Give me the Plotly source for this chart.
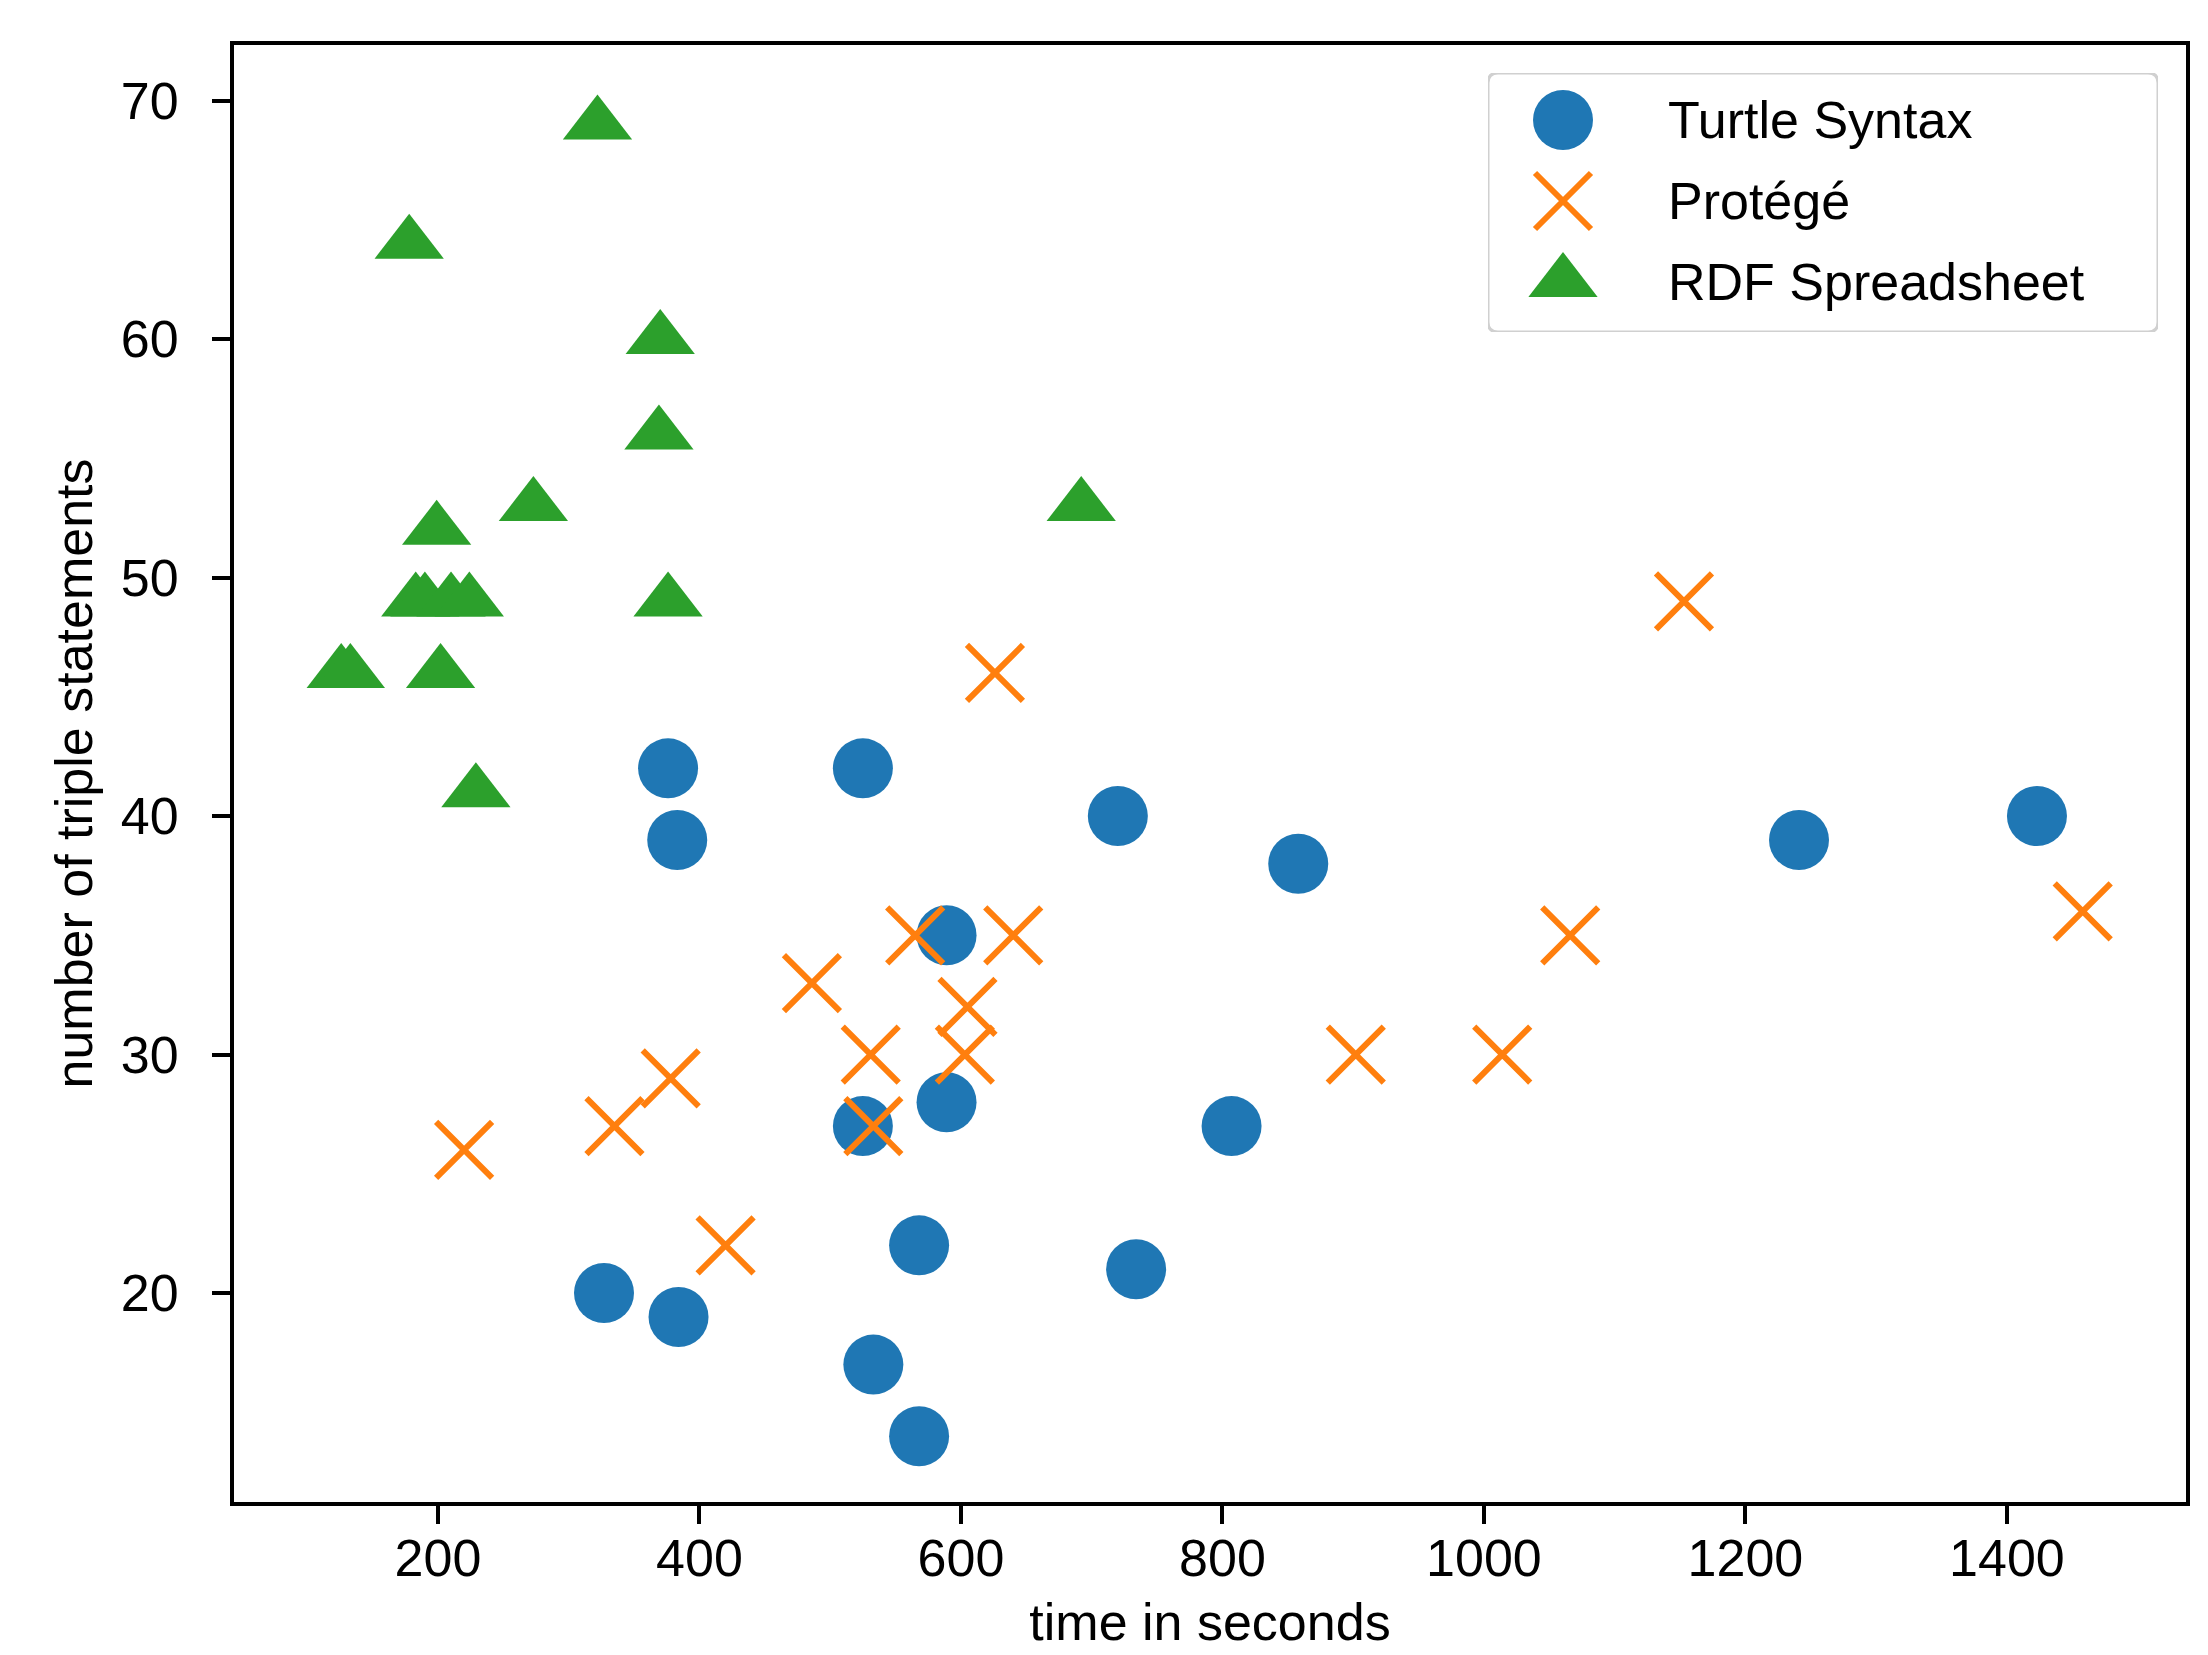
import plotly.graph_objects as go

# ---- data ----
series_names = ["Turtle Syntax", "Protégé", "RDF Spreadsheet"]

turtle_x = [376, 383, 525, 589, 720, 858, 1241, 1423, 525, 589, 807, 327, 384, 568, 734, 533, 568]
turtle_y = [42, 39, 42, 35, 40, 38, 39, 40, 27, 28, 27, 20, 19, 22, 21, 17, 14]

protege_x = [626, 1153, 565, 640, 1066, 1458, 486, 605, 531, 603, 902, 1014, 378, 335, 533, 220, 420]
protege_y = [46, 49, 35, 35, 35, 36, 33, 32, 30, 30, 30, 30, 29, 27, 27, 26, 22]

rdf_x = [322, 178, 370, 369, 273, 692, 199, 183, 190, 210, 224, 376, 126, 133, 202, 229]
rdf_y = [69, 64, 60, 56, 53, 53, 52, 49, 49, 49, 49, 49, 46, 46, 46, 41]

x_ticks = [200, 400, 600, 800, 1000, 1200, 1400]
y_ticks = [20, 30, 40, 50, 60, 70]

colors = ["#1f77b4", "#ff7f0e", "#2ca02c"]
symbols = ["circle", "x-thin", "triangle-up"]
sizes = [60, 56, 60]
line_widths = [0, 6, 0]

FONT = "Liberation Sans, Arial, sans-serif"
FS = 52

W, H = 2208, 1655
# the page body has an 8px default margin; compensate so the plot frame lands
# at the reference pixel positions
L, R, T, B = 226, 30, 37, 161
plot_w = W - L - R
plot_h = H - T - B
OFF = 8

fig = go.Figure()

series = [(turtle_x, turtle_y), (protege_x, protege_y), (rdf_x, rdf_y)]


def make_marker(i):
    m = dict(symbol=symbols[i], size=sizes[i], color=colors[i])
    if symbols[i] == "x-thin":
        m["line"] = dict(color=colors[i], width=line_widths[i])
    else:
        m["line"] = dict(width=0)
    return m


for i, (xs, ys) in enumerate(series):
    fig.add_trace(go.Scatter(
        x=xs, y=ys, mode="markers", name=series_names[i],
        marker=make_marker(i), showlegend=False, xaxis="x", yaxis="y",
    ))

# ---- custom legend (large symbols like the reference) ----
# legend frame in page pixels
box_left, box_right, box_top, box_bottom = 1488, 2158, 73, 332
bw = box_right - box_left
bh = box_bottom - box_top
pl, pt = L + OFF, T + OFF          # plot-area left/top in page pixels
leg_dom_x = [(box_left - pl) / plot_w, (box_right - pl) / plot_w]
leg_dom_y = [1 - (box_bottom - pt) / plot_h, 1 - (box_top - pt) / plot_h]
row0, row_gap, sym_x, text_x = 47, 81, 75, 178

for i, name in enumerate(series_names):
    fig.add_trace(go.Scatter(
        x=[sym_x], y=[row0 + i * row_gap], mode="markers", marker=make_marker(i),
        showlegend=False, hoverinfo="skip", xaxis="x2", yaxis="y2",
    ))
    fig.add_annotation(
        x=text_x, y=row0 + i * row_gap, xref="x2", yref="y2", text=name,
        showarrow=False, xanchor="left", yanchor="middle",
        font=dict(family=FONT, size=FS, color="black"),
    )

r = 10
path = (f"M{r},0 L{bw-r},0 Q{bw},0 {bw},{r} L{bw},{bh-r} Q{bw},{bh} {bw-r},{bh} "
        f"L{r},{bh} Q0,{bh} 0,{bh-r} L0,{r} Q0,0 {r},0 Z")
fig.add_shape(type="path", path=path, xref="x2", yref="y2",
              line=dict(color="#d0d0d0", width=3),
              fillcolor="rgba(255,255,255,0.8)", layer="below")

axis_common = dict(
    showgrid=False, zeroline=False, showline=True, linecolor="black", linewidth=4,
    mirror=True, ticks="outside", ticklen=18, tickwidth=4, tickcolor="black",
    tickfont=dict(family=FONT, size=FS, color="black"), automargin=False,
)

fig.update_layout(
    width=W, height=H,
    margin=dict(l=L, r=R, t=T, b=B, pad=0, autoexpand=False),
    paper_bgcolor="white", plot_bgcolor="white",
    showlegend=False,
    font=dict(family=FONT, size=FS, color="black"),
    xaxis=dict(
        range=[44, 1537], tickvals=x_ticks, ticklabelstandoff=-10,
        title=dict(text="time in seconds", standoff=18,
                   font=dict(family=FONT, size=FS, color="black")),
        **axis_common,
    ),
    yaxis=dict(
        range=[11.24, 72.33], tickvals=y_ticks, ticklabelstandoff=23,
        title=dict(text="number of triple statements", standoff=13,
                   font=dict(family=FONT, size=FS, color="black")),
        **axis_common,
    ),
    xaxis2=dict(domain=leg_dom_x, range=[0, bw], visible=False, fixedrange=True,
                anchor="y2"),
    yaxis2=dict(domain=leg_dom_y, range=[bh, 0], visible=False, fixedrange=True,
                anchor="x2"),
)

fig.write_html("out.html")
